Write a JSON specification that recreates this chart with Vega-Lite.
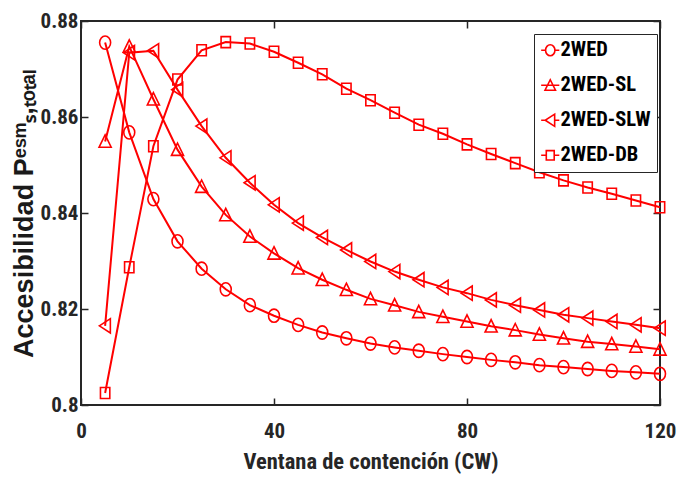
{
  "$schema": "https://vega.github.io/schema/vega-lite/v6.json",
  "width": 579,
  "height": 384,
  "autosize": "none",
  "padding": {"left": 81, "top": 21, "right": 17, "bottom": 80},
  "background": "white",
  "config": {
    "view": {"stroke": "#262626", "strokeWidth": 2},
    "axis": {"grid": false, "domain": false}
  },
  "data": {
    "values": [
      {"x": 5, "series": "2WED", "y": 0.8755},
      {"x": 10, "series": "2WED", "y": 0.8568},
      {"x": 15, "series": "2WED", "y": 0.8429},
      {"x": 20, "series": "2WED", "y": 0.8341},
      {"x": 25, "series": "2WED", "y": 0.8284},
      {"x": 30, "series": "2WED", "y": 0.8241},
      {"x": 35, "series": "2WED", "y": 0.8208},
      {"x": 40, "series": "2WED", "y": 0.8186},
      {"x": 45, "series": "2WED", "y": 0.8167},
      {"x": 50, "series": "2WED", "y": 0.8151},
      {"x": 55, "series": "2WED", "y": 0.8139},
      {"x": 60, "series": "2WED", "y": 0.8128},
      {"x": 65, "series": "2WED", "y": 0.8120},
      {"x": 70, "series": "2WED", "y": 0.8113},
      {"x": 75, "series": "2WED", "y": 0.8106},
      {"x": 80, "series": "2WED", "y": 0.8100},
      {"x": 85, "series": "2WED", "y": 0.8094},
      {"x": 90, "series": "2WED", "y": 0.8089},
      {"x": 95, "series": "2WED", "y": 0.8083},
      {"x": 100, "series": "2WED", "y": 0.8079},
      {"x": 105, "series": "2WED", "y": 0.8075},
      {"x": 110, "series": "2WED", "y": 0.8071},
      {"x": 115, "series": "2WED", "y": 0.8068},
      {"x": 120, "series": "2WED", "y": 0.8065},
      {"x": 5, "series": "2WED-SL", "y": 0.8549},
      {"x": 10, "series": "2WED-SL", "y": 0.8747},
      {"x": 15, "series": "2WED-SL", "y": 0.8637},
      {"x": 20, "series": "2WED-SL", "y": 0.8532},
      {"x": 25, "series": "2WED-SL", "y": 0.8455},
      {"x": 30, "series": "2WED-SL", "y": 0.8396},
      {"x": 35, "series": "2WED-SL", "y": 0.8351},
      {"x": 40, "series": "2WED-SL", "y": 0.8316},
      {"x": 45, "series": "2WED-SL", "y": 0.8285},
      {"x": 50, "series": "2WED-SL", "y": 0.8261},
      {"x": 55, "series": "2WED-SL", "y": 0.8240},
      {"x": 60, "series": "2WED-SL", "y": 0.8221},
      {"x": 65, "series": "2WED-SL", "y": 0.8208},
      {"x": 70, "series": "2WED-SL", "y": 0.8194},
      {"x": 75, "series": "2WED-SL", "y": 0.8184},
      {"x": 80, "series": "2WED-SL", "y": 0.8174},
      {"x": 85, "series": "2WED-SL", "y": 0.8164},
      {"x": 90, "series": "2WED-SL", "y": 0.8156},
      {"x": 95, "series": "2WED-SL", "y": 0.8147},
      {"x": 100, "series": "2WED-SL", "y": 0.8139},
      {"x": 105, "series": "2WED-SL", "y": 0.8132},
      {"x": 110, "series": "2WED-SL", "y": 0.8127},
      {"x": 115, "series": "2WED-SL", "y": 0.8122},
      {"x": 120, "series": "2WED-SL", "y": 0.8116},
      {"x": 5, "series": "2WED-SLW", "y": 0.8165},
      {"x": 10, "series": "2WED-SLW", "y": 0.8734},
      {"x": 15, "series": "2WED-SLW", "y": 0.8738},
      {"x": 20, "series": "2WED-SLW", "y": 0.8657},
      {"x": 25, "series": "2WED-SLW", "y": 0.8581},
      {"x": 30, "series": "2WED-SLW", "y": 0.8515},
      {"x": 35, "series": "2WED-SLW", "y": 0.8463},
      {"x": 40, "series": "2WED-SLW", "y": 0.8417},
      {"x": 45, "series": "2WED-SLW", "y": 0.8379},
      {"x": 50, "series": "2WED-SLW", "y": 0.8349},
      {"x": 55, "series": "2WED-SLW", "y": 0.8323},
      {"x": 60, "series": "2WED-SLW", "y": 0.8299},
      {"x": 65, "series": "2WED-SLW", "y": 0.8278},
      {"x": 70, "series": "2WED-SLW", "y": 0.8261},
      {"x": 75, "series": "2WED-SLW", "y": 0.8245},
      {"x": 80, "series": "2WED-SLW", "y": 0.8233},
      {"x": 85, "series": "2WED-SLW", "y": 0.8219},
      {"x": 90, "series": "2WED-SLW", "y": 0.8208},
      {"x": 95, "series": "2WED-SLW", "y": 0.8198},
      {"x": 100, "series": "2WED-SLW", "y": 0.8188},
      {"x": 105, "series": "2WED-SLW", "y": 0.8181},
      {"x": 110, "series": "2WED-SLW", "y": 0.8174},
      {"x": 115, "series": "2WED-SLW", "y": 0.8167},
      {"x": 120, "series": "2WED-SLW", "y": 0.8160},
      {"x": 5, "series": "2WED-DB", "y": 0.8025},
      {"x": 10, "series": "2WED-DB", "y": 0.8287},
      {"x": 15, "series": "2WED-DB", "y": 0.8539},
      {"x": 20, "series": "2WED-DB", "y": 0.8678},
      {"x": 25, "series": "2WED-DB", "y": 0.8739},
      {"x": 30, "series": "2WED-DB", "y": 0.8756},
      {"x": 35, "series": "2WED-DB", "y": 0.8753},
      {"x": 40, "series": "2WED-DB", "y": 0.8736},
      {"x": 45, "series": "2WED-DB", "y": 0.8713},
      {"x": 50, "series": "2WED-DB", "y": 0.8689},
      {"x": 55, "series": "2WED-DB", "y": 0.8659},
      {"x": 60, "series": "2WED-DB", "y": 0.8635},
      {"x": 65, "series": "2WED-DB", "y": 0.8609},
      {"x": 70, "series": "2WED-DB", "y": 0.8584},
      {"x": 75, "series": "2WED-DB", "y": 0.8565},
      {"x": 80, "series": "2WED-DB", "y": 0.8543},
      {"x": 85, "series": "2WED-DB", "y": 0.8523},
      {"x": 90, "series": "2WED-DB", "y": 0.8504},
      {"x": 95, "series": "2WED-DB", "y": 0.8485},
      {"x": 100, "series": "2WED-DB", "y": 0.8468},
      {"x": 105, "series": "2WED-DB", "y": 0.8453},
      {"x": 110, "series": "2WED-DB", "y": 0.8440},
      {"x": 115, "series": "2WED-DB", "y": 0.8426},
      {"x": 120, "series": "2WED-DB", "y": 0.8412}
    ]
  },
  "layer": [
    {
      "mark": {"type": "line", "color": "#ff0000", "strokeWidth": 2, "clip": false},
      "encoding": {
        "x": {
          "field": "x", "type": "quantitative",
          "scale": {"domain": [0, 120], "nice": false, "zero": false},
          "axis": {
            "orient": "bottom", "values": [0, 40, 80, 120], "labelFlush": false,
            "tickSize": -7, "tickWidth": 1.5, "tickColor": "#262626",
            "labelPadding": 22, "labelFont": "Roboto Condensed", "labelFontWeight": "bold",
            "labelFontSize": 21, "labelColor": "#262626",
            "title": "Ventana de contención (CW)", "titleFont": "Roboto Condensed",
            "titleFontWeight": "bold", "titleFontSize": 22.5, "titleColor": "#262626", "titlePadding": 9
          }
        },
        "y": {
          "field": "y", "type": "quantitative",
          "scale": {"domain": [0.8, 0.88], "nice": false, "zero": false},
          "axis": {
            "orient": "left", "values": [0.8, 0.82, 0.84, 0.86, 0.88], "format": ".2~f",
            "labelFlush": false,
            "tickSize": -7, "tickWidth": 1.5, "tickColor": "#262626",
            "labelPadding": 10, "labelFont": "Roboto Condensed", "labelFontWeight": "bold",
            "labelFontSize": 21, "labelColor": "#262626",
            "title": "Accesibilidad Pᵉˢᵐₛ,ₜₒₜₐₗ", "titleFont": "Liberation Sans",
            "titleFontWeight": "bold", "titleFontSize": 27, "titleColor": "#1a1a1a", "titlePadding": 2
          }
        },
        "detail": {"field": "series"}
      }
    },
    {
      "transform": [{"filter": "datum.series == '2WED'"}],
      "mark": {"type": "point", "filled": false, "color": "#ff0000", "strokeWidth": 1.6, "size": 121, "opacity": 1, "clip": false,
               "shape": "M1,0A1,1.2,0,1,1,-1,0A1,1.2,0,1,1,1,0Z"},
      "encoding": {
        "x": {
          "field": "x", "type": "quantitative",
          "axis": {"orient": "top", "values": [0, 40, 80, 120], "labels": false, "title": null,
                   "tickSize": -7, "tickWidth": 1.5, "tickColor": "#262626"}
        },
        "y": {
          "field": "y", "type": "quantitative",
          "axis": {"orient": "right", "values": [0.8, 0.82, 0.84, 0.86, 0.88], "labels": false, "title": null,
                   "tickSize": -7, "tickWidth": 1.5, "tickColor": "#262626"}
        }
      }
    },
    {
      "transform": [{"filter": "datum.series == '2WED-SL'"}],
      "mark": {"type": "point", "filled": false, "color": "#ff0000", "strokeWidth": 1.6, "size": 121, "opacity": 1, "clip": false,
               "shape": "M0,-1.2L1.1,1.05L-1.1,1.05Z"},
      "encoding": {
        "x": {"field": "x", "type": "quantitative", "axis": null},
        "y": {"field": "y", "type": "quantitative", "axis": null}
      }
    },
    {
      "transform": [{"filter": "datum.series == '2WED-SLW'"}],
      "mark": {"type": "point", "filled": false, "color": "#ff0000", "strokeWidth": 1.6, "size": 121, "opacity": 1, "clip": false,
               "shape": "M-1.05,0L0.95,-1.3L0.95,1.3Z"},
      "encoding": {
        "x": {"field": "x", "type": "quantitative", "axis": null},
        "y": {"field": "y", "type": "quantitative", "axis": null}
      }
    },
    {
      "transform": [{"filter": "datum.series == '2WED-DB'"}],
      "mark": {"type": "point", "filled": false, "color": "#ff0000", "strokeWidth": 1.6, "size": 121, "opacity": 1, "clip": false,
               "shape": "M-0.85,-1L0.85,-1L0.85,1L-0.85,1Z"},
      "encoding": {
        "x": {"field": "x", "type": "quantitative", "axis": null},
        "y": {"field": "y", "type": "quantitative", "axis": null}
      }
    },
    {
      "transform": [{"filter": "datum.x < 0"}],
      "mark": {"type": "point", "filled": false, "color": "#ff0000", "strokeWidth": 1.6, "size": 121, "opacity": 1},
      "encoding": {
        "x": {"field": "x", "type": "quantitative", "axis": null},
        "y": {"field": "y", "type": "quantitative", "axis": null},
        "shape": {
          "field": "series", "type": "nominal",
          "scale": {
            "domain": ["2WED", "2WED-SL", "2WED-SLW", "2WED-DB"],
            "range": [
              "M-1.65,0L-0.85,0A0.85,1,0,1,1,0.85,0L1.65,0L0.85,0A0.85,1,0,1,1,-0.85,0",
              "M-1.65,0L-0.5,0L0,-1L0.95,0.9L-0.95,0.9L-0.5,0L1.65,0",
              "M-1.65,0L-0.9,0L0.8,-1.1L0.8,0L1.65,0L0.8,0L0.8,1.1L-0.9,0",
              "M-1.65,0L-0.72,0L-0.72,-0.85L0.72,-0.85L0.72,0L1.65,0L0.72,0L0.72,0.85L-0.72,0.85L-0.72,0"
            ]
          },
          "legend": {
            "title": null, "orient": "none", "legendX": 453, "legendY": 13,
            "padding": 6, "rowPadding": 14, "labelOffset": 0,
            "labelFont": "Roboto Condensed", "labelFontWeight": "bold", "labelFontSize": 20.5,
            "labelColor": "#000000", "fillColor": "white", "strokeColor": "#262626",
            "symbolStrokeColor": "#ff0000", "symbolStrokeWidth": 1.6, "symbolSize": 121
          }
        }
      }
    }
  ],
  "resolve": {"axis": {"x": "independent", "y": "independent"}}
}
